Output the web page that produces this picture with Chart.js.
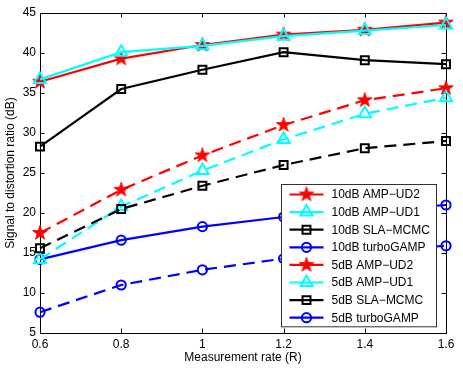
<!DOCTYPE html>
<html>
<head>
<meta charset="utf-8">
<script src="https://cdn.jsdelivr.net/npm/chart.js@4/dist/chart.umd.min.js"></script>
<style>
html,body{margin:0;padding:0;background:#fff;}
canvas{display:block;}
</style>
</head>
<body>
<canvas id="c" width="463" height="369"></canvas>
<script>
// ---- data ----
const xValues = [0.6, 0.8, 1.0, 1.2, 1.4, 1.6];
const xTickValues = [0.6, 0.8, 1.0, 1.2, 1.4, 1.6];
const xTickLabels = ['0.6', '0.8', '1', '1.2', '1.4', '1.6'];
const yTickValues = [5, 10, 15, 20, 25, 30, 35, 40, 45];
const yTickLabels = ['5', '10', '15', '20', '25', '30', '35', '40', '45'];

const seriesLabels = [
  '10dB AMP\u2212UD2', '10dB AMP\u2212UD1', '10dB SLA\u2212MCMC', '10dB turboGAMP',
  '5dB AMP\u2212UD2', '5dB AMP\u2212UD1', '5dB SLA\u2212MCMC', '5dB turboGAMP'
];
const ampUD2_10dB   = [36.4, 39.3, 41.0, 42.3, 42.9, 43.8];
const ampUD1_10dB   = [36.7, 40.1, 40.9, 42.1, 42.8, 43.5];
const slaMCMC_10dB  = [28.3, 35.5, 37.9, 40.1, 39.1, 38.6];
const turboGAMP_10dB= [14.2, 16.6, 18.3, 19.5, 20.3, 21.0];
const ampUD2_5dB    = [17.5, 22.9, 27.2, 31.0, 34.1, 35.6];
const ampUD1_5dB    = [14.2, 20.8, 25.3, 29.2, 32.4, 34.4];
const slaMCMC_5dB   = [15.6, 20.5, 23.4, 26.0, 28.1, 29.0];
const turboGAMP_5dB = [7.6, 11.0, 12.9, 14.3, 15.2, 15.9];

// ---- styles ----
const FONT = "'Liberation Sans', Arial, Helvetica, sans-serif";
function makeStar(color) {
  const s = 18, c = s / 2, R = 7.6, r = R * 0.382;
  const cv = document.createElement('canvas');
  cv.width = s; cv.height = s;
  const g = cv.getContext('2d');
  g.beginPath();
  for (let i = 0; i < 10; i++) {
    const ang = -Math.PI / 2 + i * Math.PI / 5;
    const rr = (i % 2 === 0) ? R : r;
    const px = c + rr * Math.cos(ang), py = c + rr * Math.sin(ang);
    if (i === 0) g.moveTo(px, py); else g.lineTo(px, py);
  }
  g.closePath();
  g.fillStyle = color; g.fill();
  g.strokeStyle = color; g.lineWidth = 1; g.stroke();
  return cv;
}
const starRed = makeStar('#ff0000');
const DASH = [12, 7];
const styles = [
  {color:'#ff0000', point:starRed, radius:8, dash:[]},
  {color:'#00ffff', point:'triangle', radius:7, dash:[]},
  {color:'#000000', point:'rect', radius:5.6, dash:[]},
  {color:'#0000ff', point:'circle', radius:4.6, dash:[]},
  {color:'#ff0000', point:starRed, radius:8, dash:DASH},
  {color:'#00ffff', point:'triangle', radius:7, dash:DASH},
  {color:'#000000', point:'rect', radius:5.6, dash:DASH},
  {color:'#0000ff', point:'circle', radius:4.6, dash:DASH}
];
const seriesValues = [ampUD2_10dB, ampUD1_10dB, slaMCMC_10dB, turboGAMP_10dB,
                      ampUD2_5dB, ampUD1_5dB, slaMCMC_5dB, turboGAMP_5dB];

const datasets = seriesValues.map((vals, i) => ({
  label: seriesLabels[i],
  data: vals.map((v, k) => ({x: xValues[k], y: v})),
  borderColor: styles[i].color,
  backgroundColor: 'rgba(0,0,0,0)',
  pointBackgroundColor: 'rgba(0,0,0,0)',
  pointBorderColor: styles[i].color,
  pointStyle: styles[i].point,
  pointRadius: styles[i].radius,
  pointBorderWidth: 2,
  borderWidth: 2.2,
  borderDash: styles[i].dash,
  tension: 0,
  clip: false,
  order: 100 - i
}));

const framePlugin = {
  id: 'frame',
  beforeDatasetsDraw(chart) {
    const {ctx, chartArea: a, scales} = chart;
    ctx.save();
    ctx.strokeStyle = '#000';
    ctx.lineWidth = 1;
    ctx.beginPath();
    const L = 4.5;
    scales.x.ticks.forEach(t => {
      const px = Math.round(scales.x.getPixelForValue(t.value)) + 0.5;
      ctx.moveTo(px, a.bottom); ctx.lineTo(px, a.bottom - L);
      ctx.moveTo(px, a.top); ctx.lineTo(px, a.top + L);
    });
    scales.y.ticks.forEach(t => {
      const py = Math.round(scales.y.getPixelForValue(t.value)) + 0.5;
      ctx.moveTo(a.left, py); ctx.lineTo(a.left + L, py);
      ctx.moveTo(a.right, py); ctx.lineTo(a.right - L, py);
    });
    ctx.stroke();
    ctx.strokeRect(Math.round(a.left) + 0.5, Math.round(a.top) + 0.5,
                   Math.round(a.right - a.left), Math.round(a.bottom - a.top));
    ctx.restore();
  },
  afterDraw(chart) {
    const {ctx, chartArea: a} = chart;
    const n = chart.data.datasets.length;
    const rowH = 17.6;
    const boxW = 155, boxH = rowH * n + 1.5;
    const bx = Math.round(a.right - 10 - boxW) + 0.5;
    const by = Math.round(a.bottom - 7 - boxH) + 0.5;
    ctx.save();
    ctx.fillStyle = '#fff';
    ctx.fillRect(bx, by, boxW, boxH);
    ctx.strokeStyle = '#333';
    ctx.lineWidth = 1;
    ctx.strokeRect(bx, by, boxW, boxH);
    ctx.font = '12px ' + FONT;
    ctx.textBaseline = 'middle';
    ctx.textAlign = 'left';
    chart.data.datasets.forEach((ds, i) => {
      const y = by + 10 + i * rowH;
      const x0 = bx + 8, x1 = bx + 42, xm = (x0 + x1) / 2;
      ctx.setLineDash([]);
      ctx.strokeStyle = ds.borderColor;
      ctx.lineWidth = 2.2;
      ctx.beginPath(); ctx.moveTo(x0, y); ctx.lineTo(x1, y); ctx.stroke();
      ctx.fillStyle = 'rgba(0,0,0,0)';
      ctx.strokeStyle = ds.pointBorderColor;
      ctx.lineWidth = 2;
      Chart.helpers.drawPoint(ctx, {pointStyle: ds.pointStyle, radius: ds.pointRadius,
        borderWidth: 2, rotation: 0}, xm, y);
      ctx.fillStyle = '#000';
      ctx.fillText(ds.label, bx + 50, y + 0.5);
    });
    ctx.restore();
  }
};

new Chart(document.getElementById('c'), {
  type: 'line',
  data: {datasets},
  plugins: [framePlugin],
  options: {
    responsive: false,
    animation: false,
    devicePixelRatio: 1,
    layout: {padding: {left: 0, top: 13, right: 17, bottom: 0}},
    plugins: {legend: {display: false}, tooltip: {enabled: false}},
    scales: {
      x: {
        type: 'linear', min: 0.6, max: 1.6,
        grid: {display: false, drawTicks: false, tickLength: 0},
        border: {display: false},
        afterFit(s) { s.height = 36; },
        afterBuildTicks(s) { s.ticks = xTickValues.map(v => ({value: v})); },
        ticks: {
          color: '#000', padding: 4, maxRotation: 0, autoSkip: false,
          font: {family: FONT, size: 12},
          callback: (v, i) => xTickLabels[i]
        },
        title: {display: true, text: 'Measurement rate (R)', color: '#000',
                font: {family: FONT, size: 12}, padding: {top: 0, bottom: 4}}
      },
      y: {
        type: 'linear', min: 5, max: 45,
        grid: {display: false, drawTicks: false, tickLength: 0},
        border: {display: false},
        afterFit(s) { s.width = 40; },
        afterBuildTicks(s) { s.ticks = yTickValues.map(v => ({value: v})); },
        ticks: {
          color: '#000', padding: 4, autoSkip: false,
          font: {family: FONT, size: 12},
          callback: (v, i) => yTickLabels[i]
        },
        title: {display: true, text: 'Signal to distortion ratio (dB)', color: '#000',
                font: {family: FONT, size: 12}, padding: {top: 3, bottom: 0}}
      }
    }
  }
});
</script>
</body>
</html>
